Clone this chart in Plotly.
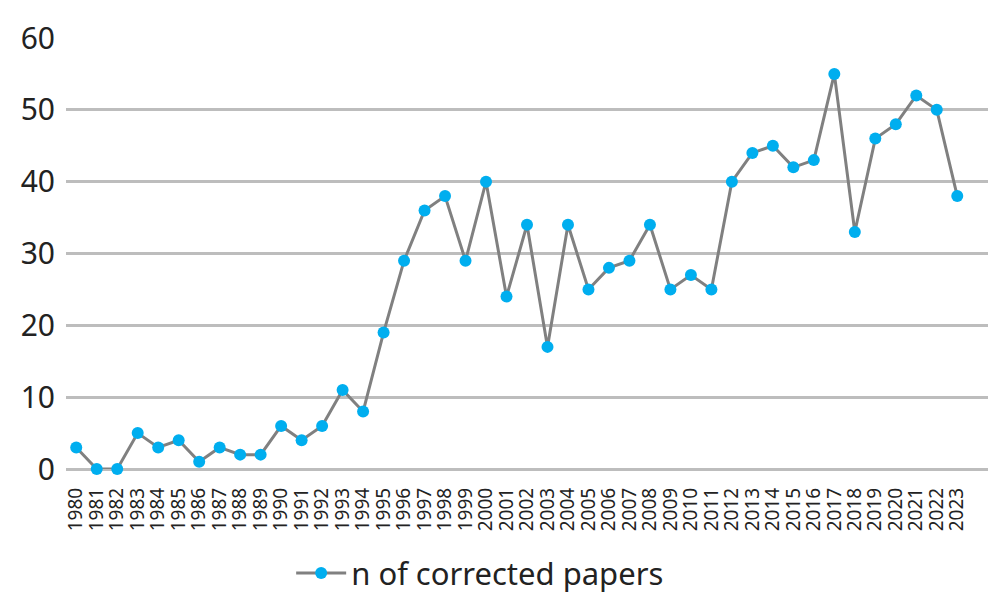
import plotly.graph_objects as go

years = [str(y) for y in range(1980, 2024)]
corrected = [3, 0, 0, 5, 3, 4, 1, 3, 2, 2, 6, 4, 6, 11, 8, 19, 29, 36, 38, 29,
             40, 24, 34, 17, 34, 25, 28, 29, 34, 25, 27, 25, 40, 44, 45, 42, 43, 55, 33, 46,
             48, 52, 50, 38]
y_ticks = [0, 10, 20, 30, 40, 50, 60]

fig = go.Figure()
fig.add_trace(go.Scatter(
    x=years, y=corrected, mode="lines+markers", name="n of corrected papers",
    line=dict(color="#808080", width=3),
    marker=dict(color="#00aeef", size=12),
    cliponaxis=False,
))
fig.update_layout(
    width=1004, height=610,
    margin=dict(l=66, r=16, t=38, b=141, autoexpand=False),
    paper_bgcolor="white", plot_bgcolor="white",
    font=dict(family="Noto Sans", color="#222222"),
    showlegend=True,
    legend=dict(orientation="h", xref="container", x=0.29, xanchor="left",
                yref="container", y=0.06, yanchor="middle",
                font=dict(size=31), itemwidth=50),
    xaxis=dict(type="category", range=[-0.5, 44.5], tickangle=-90,
               tickmode="array", tickvals=years, ticktext=years,
               tickfont=dict(size=19), showgrid=False, showline=False, ticks="",
               ticklabelstandoff=14),
    yaxis=dict(range=[0, 60], tickvals=y_ticks, tickfont=dict(size=30),
               gridcolor="#bdbdbd", gridwidth=3, zeroline=True,
               zerolinecolor="#bdbdbd", zerolinewidth=3, showline=False,
               ticklabelstandoff=10),
)
fig.write_html("out.html")
